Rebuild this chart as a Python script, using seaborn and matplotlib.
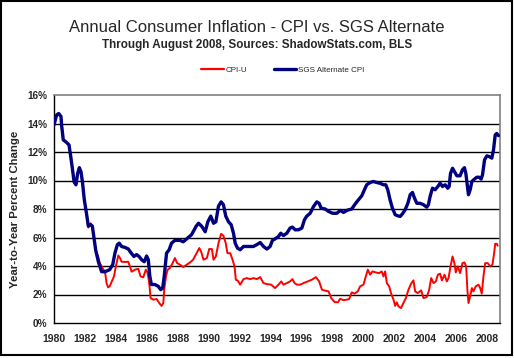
import matplotlib
matplotlib.use("Agg")
import matplotlib.pyplot as plt
import seaborn as sns
import pandas as pd
from matplotlib.patches import Rectangle
from matplotlib.lines import Line2D

# SGS Alternate CPI, year-to-year % change
sgs_year = [1980.0, 1980.17, 1980.3, 1980.45, 1980.5, 1980.6, 1980.78, 1980.97, 1981.08, 1981.2,
            1981.3, 1981.42, 1981.53, 1981.64, 1981.75, 1981.85, 1981.96, 1982.1, 1982.22, 1982.37,
            1982.48, 1982.6, 1982.7, 1982.87, 1982.97, 1983.08, 1983.3, 1983.45, 1983.6, 1983.8,
            1983.94, 1984.1, 1984.22, 1984.37, 1984.6, 1984.8, 1985.0, 1985.17, 1985.34, 1985.5,
            1985.67, 1985.84, 1985.99, 1986.1, 1986.2, 1986.3, 1986.53, 1986.75, 1986.9, 1987.03,
            1987.13, 1987.28, 1987.45, 1987.6, 1987.82, 1988.15, 1988.36, 1988.58, 1988.9, 1989.1,
            1989.2, 1989.35, 1989.56, 1989.78, 1989.95, 1990.14, 1990.32, 1990.47, 1990.64, 1990.81,
            1990.96, 1991.11, 1991.29, 1991.46, 1991.61, 1991.72, 1991.87, 1992.04, 1992.26, 1992.58,
            1992.9, 1993.12, 1993.34, 1993.55, 1993.77, 1993.98, 1994.13, 1994.3, 1994.52, 1994.67,
            1994.84, 1995.06, 1995.27, 1995.42, 1995.6, 1995.81, 1996.03, 1996.2, 1996.35, 1996.57,
            1996.79, 1997.0, 1997.15, 1997.28, 1997.54, 1997.76, 1998.02, 1998.3, 1998.51, 1998.73,
            1998.95, 1999.05, 1999.26, 1999.48, 1999.69, 1999.91, 2000.08, 2000.23, 2000.45, 2000.66,
            2000.88, 2001.1, 2001.31, 2001.46, 2001.59, 2001.74, 2001.89, 2002.07, 2002.24, 2002.39,
            2002.54, 2002.71, 2002.89, 2003.04, 2003.19, 2003.32, 2003.47, 2003.68, 2003.9, 2004.11,
            2004.22, 2004.33, 2004.48, 2004.65, 2004.83, 2004.98, 2005.13, 2005.3, 2005.47, 2005.56,
            2005.65, 2005.78, 2005.9, 2006.06, 2006.27, 2006.42, 2006.55, 2006.64, 2006.72, 2006.81,
            2006.92, 2007.03, 2007.2, 2007.35, 2007.5, 2007.63, 2007.72, 2007.85, 2008.0, 2008.15,
            2008.32, 2008.43, 2008.54, 2008.64, 2008.75]
sgs_pct = [13.9, 14.6, 14.7, 14.5, 13.8, 12.85, 12.7, 12.5, 11.7, 10.75,
           9.9, 9.7, 10.5, 10.9, 10.6, 9.8, 8.65, 7.7, 6.8, 6.9,
           6.8, 5.85, 5.1, 4.3, 3.97, 3.6, 3.6, 3.67, 3.74, 4.1,
           4.9, 5.5, 5.6, 5.37, 5.3, 5.2, 4.9, 4.67, 4.8, 4.67,
           4.44, 4.3, 4.7, 4.44, 3.27, 2.7, 2.7, 2.57, 2.34, 2.45,
           3.27, 4.9, 5.14, 5.6, 5.8, 5.8, 5.7, 5.9, 6.2, 6.6,
           6.8, 7.0, 6.78, 6.4, 7.1, 7.5, 7.0, 7.1, 8.2, 8.5,
           8.3, 7.5, 7.1, 6.9, 6.3, 5.6, 5.26, 5.14, 5.37, 5.37,
           5.37, 5.5, 5.65, 5.37, 5.19, 5.37, 5.8, 5.9, 6.07, 6.3,
           6.14, 6.3, 6.66, 6.73, 6.54, 6.54, 6.66, 7.24, 7.5, 7.7,
           8.18, 8.5, 8.4, 8.06, 8.0, 7.83, 7.7, 7.7, 7.9, 7.76,
           7.9, 7.94, 8.0, 8.35, 8.64, 8.93, 9.35, 9.7, 9.86, 9.93,
           9.86, 9.8, 9.7, 9.7, 9.35, 8.64, 8.06, 7.6, 7.52, 7.48,
           7.66, 7.94, 8.4, 9.0, 9.16, 8.76, 8.4, 8.4, 8.3, 8.13,
           8.3, 8.88, 9.46, 9.35, 9.58, 9.81, 9.58, 9.7, 9.46, 9.58,
           10.5, 10.86, 10.63, 10.33, 10.33, 10.75, 10.9, 10.5, 9.8, 9.0,
           9.35, 9.93, 10.1, 10.23, 10.23, 10.1, 10.4, 11.45, 11.73, 11.68,
           11.57, 12.15, 13.2, 13.3, 13.15]

# CPI-U, year-to-year % change (runs under the SGS line until 1982)
cpi_year = [1980.0, 1980.17, 1980.3, 1980.45, 1980.5, 1980.6, 1980.78, 1980.97, 1981.08, 1981.2,
            1981.3, 1981.42, 1981.53, 1981.64, 1981.75, 1981.85, 1981.96, 1982.1, 1982.22, 1982.37,
            1982.48, 1982.6, 1982.7, 1982.87, 1982.97, 1983.2, 1983.3, 1983.4, 1983.5, 1983.6,
            1983.73, 1983.88,
            1984.0, 1984.16, 1984.27, 1984.37, 1984.6, 1984.8, 1984.91, 1985.02, 1985.23, 1985.45,
            1985.6, 1985.77, 1985.94, 1986.06, 1986.16, 1986.25, 1986.42, 1986.64, 1986.81, 1986.96,
            1987.07, 1987.13, 1987.24, 1987.35, 1987.5, 1987.67, 1987.82, 1987.97, 1988.15, 1988.36,
            1988.58, 1988.8, 1989.0, 1989.22, 1989.4, 1989.52, 1989.67, 1989.89, 1990.04, 1990.21,
            1990.32, 1990.47, 1990.64, 1990.81, 1990.96, 1991.11, 1991.22, 1991.4, 1991.55, 1991.68,
            1991.76, 1991.89, 1992.04, 1992.26, 1992.47, 1992.69, 1992.9, 1993.12, 1993.34, 1993.55,
            1993.77, 1994.05, 1994.3, 1994.52, 1994.7, 1994.84, 1995.06, 1995.27, 1995.42, 1995.56,
            1995.71, 1995.92, 1996.14, 1996.42, 1996.68, 1996.94, 1997.15, 1997.33, 1997.54, 1997.76,
            1997.93, 1998.15, 1998.36, 1998.51, 1998.73, 1998.95, 1999.09, 1999.26, 1999.43, 1999.65,
            1999.8, 2000.02, 2000.17, 2000.3, 2000.45, 2000.6, 2000.81, 2001.03, 2001.2, 2001.31,
            2001.42, 2001.53, 2001.68, 2001.81, 2001.96, 2002.07, 2002.17, 2002.28, 2002.45, 2002.6,
            2002.76, 2002.93, 2003.1, 2003.25, 2003.36, 2003.53, 2003.75, 2003.9, 2004.11, 2004.27,
            2004.4, 2004.55, 2004.7, 2004.83, 2004.98, 2005.09, 2005.26, 2005.41, 2005.52, 2005.65,
            2005.78, 2005.9, 2005.99, 2006.12, 2006.27, 2006.42, 2006.55, 2006.66, 2006.74, 2006.81,
            2006.92, 2007.03, 2007.13, 2007.28, 2007.46, 2007.57, 2007.67, 2007.78, 2007.89, 2008.06,
            2008.21, 2008.36, 2008.47, 2008.54, 2008.64, 2008.7]
cpi_pct = [13.9, 14.6, 14.7, 14.5, 13.8, 12.85, 12.7, 12.5, 11.7, 10.75,
           9.9, 9.7, 10.5, 10.9, 10.6, 9.8, 8.65, 7.7, 6.7, 7.0,
           6.7, 5.85, 5.1, 4.6, 4.2, 3.74, 3.6, 2.8, 2.5, 2.57,
           2.9, 3.27,
           3.97, 4.74, 4.56, 4.3, 4.28, 4.3, 3.97, 3.6, 3.74, 3.8,
           3.27, 3.2, 3.74, 3.5, 2.8, 1.75, 1.64, 1.68, 1.4, 1.2,
           1.4, 2.34, 3.27, 3.74, 3.86, 4.2, 4.56, 4.2, 4.09, 3.93,
           4.09, 4.25, 4.44, 4.9, 5.26, 5.0, 4.44, 4.56, 5.19, 5.19,
           4.44, 4.67, 5.6, 6.26, 6.12, 5.6, 4.9, 4.9, 4.44, 3.97,
           3.04, 2.97, 2.69, 3.08, 3.15, 3.08, 3.15, 3.08, 3.22, 2.8,
           2.73, 2.69, 2.45, 2.69, 2.92, 2.69, 2.8, 2.92, 3.08, 2.8,
           2.69, 2.69, 2.8, 2.92, 3.04, 3.22, 2.92, 2.34, 2.27, 2.22,
           1.75, 1.47, 1.45, 1.7, 1.6, 1.64, 1.68, 2.15, 2.06, 2.22,
           2.57, 2.69, 3.27, 3.74, 3.39, 3.62, 3.55, 3.5, 3.62, 3.27,
           3.62, 2.8, 2.57, 2.06, 1.64, 1.2, 1.45, 1.17, 1.05, 1.4,
           1.75, 2.34, 2.76, 2.99, 2.22, 2.1, 2.29, 1.75, 1.82, 2.34,
           3.15, 2.8, 2.92, 3.39, 3.46, 2.99, 3.39, 2.92, 3.15, 3.97,
           4.67, 4.2, 3.55, 3.97, 3.5, 4.2, 4.25, 3.97, 2.34, 1.4,
           1.87, 2.45, 2.22, 2.57, 2.69, 2.45, 2.06, 3.27, 4.2, 4.2,
           3.97, 4.09, 4.9, 5.56, 5.56, 5.42]

y_ticks = list(range(0, 17, 2))
x_years = list(range(1980, 2009))

sgs_df = pd.DataFrame({"year": sgs_year, "pct": sgs_pct})
cpi_df = pd.DataFrame({"year": cpi_year, "pct": cpi_pct})

sns.set_style("white")
plt.rcParams["font.family"] = ["Liberation Sans", "DejaVu Sans"]

fig = plt.figure(figsize=(5.14, 3.58), dpi=100)
ax = fig.add_axes([54 / 514, 35 / 358, 446 / 514, 228 / 358])

for y in y_ticks[1:-1]:
    ax.axhline(y, color="black", lw=1.0, zorder=1)

sns.lineplot(data=cpi_df, x="year", y="pct", ax=ax, color="#ff0000", lw=1.4,
             estimator=None, sort=False, zorder=2)
sns.lineplot(data=sgs_df, x="year", y="pct", ax=ax, color="#000080", lw=2.4,
             estimator=None, sort=False, zorder=3)

ax.set_xlim(1980, 2008.85)
ax.set_ylim(0, 16)
ax.set_yticks(y_ticks)
ax.set_yticklabels([f"{v}%" for v in y_ticks], fontsize=7.2, fontweight="bold")
ax.set_xticks(x_years)
ax.set_xticklabels([str(y) if y % 2 == 0 else "" for y in x_years],
                   fontsize=7.5, fontweight="bold")
ax.tick_params(axis="both", length=3, width=0.8, color="black", pad=2, direction="out")
ax.tick_params(axis="x", pad=5)
ax.set_xlabel("")
ax.set_ylabel("Year-to-Year Percent Change", fontsize=8.2, fontweight="bold", labelpad=5)

for side in ["left", "bottom"]:
    ax.spines[side].set_color("black")
    ax.spines[side].set_linewidth(1.0)
for side in ["top", "right"]:
    ax.spines[side].set_color("#808080")
    ax.spines[side].set_linewidth(1.2)
    ax.spines[side].set_visible(True)

fig.text(0.5, 1 - 27 / 358, "Annual Consumer Inflation - CPI vs. SGS Alternate",
         ha="center", va="center", fontsize=12)
fig.text(0.5, 1 - 45 / 358, "Through August 2008, Sources: ShadowStats.com, BLS",
         ha="center", va="center", fontsize=8.4, fontweight="bold")

handles = [Line2D([], [], color="#ff0000", lw=1.6), Line2D([], [], color="#000080", lw=2.4)]
fig.legend(handles, ["CPI-U", "SGS Alternate CPI"], loc="center", ncol=2, frameon=False,
           bbox_to_anchor=(283 / 514, 1 - 70 / 358), fontsize=5.8, handlelength=2.8,
           handletextpad=0.3, columnspacing=3.2)

fig.patches.append(Rectangle((0.5 / 514, 3.5 / 358), 511 / 514, 354 / 358,
                             transform=fig.transFigure, fill=False, edgecolor="black", lw=1.5))

fig.savefig("out.png", dpi=100)
